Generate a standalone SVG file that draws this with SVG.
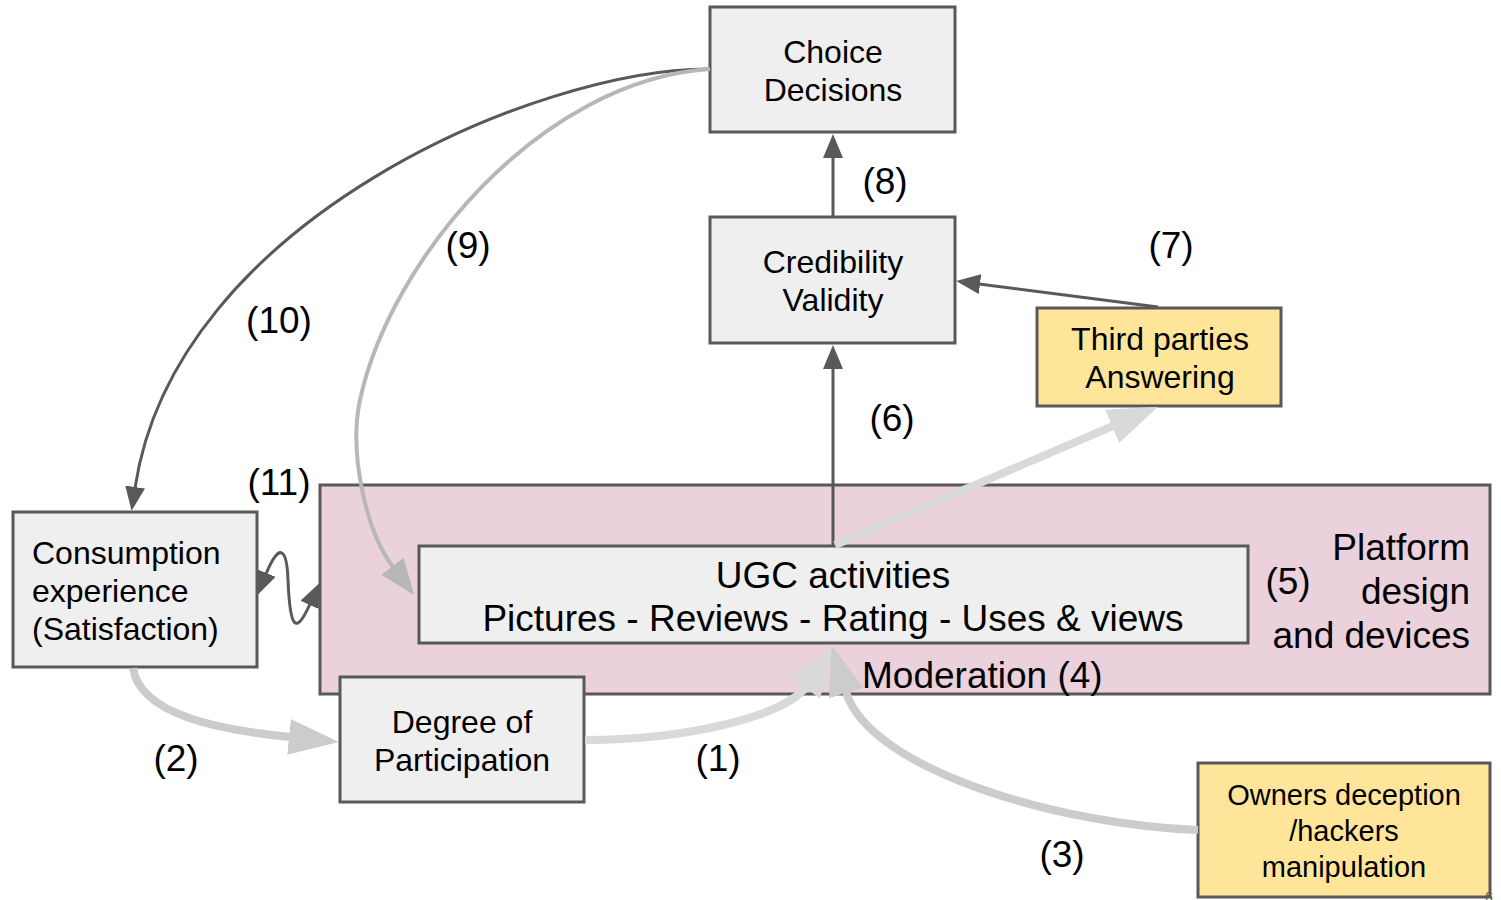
<svg xmlns="http://www.w3.org/2000/svg" width="1501" height="900" viewBox="0 0 1501 900">
<style>
.box{fill:#efefef;stroke:#595959;stroke-width:3}
.yel{fill:#ffe599;stroke:#595959;stroke-width:3}
.plat{fill:#ead1dc;stroke:#595959;stroke-width:3}
text{font-family:"Liberation Sans",Arial,sans-serif;fill:#000}
.t31{font-size:32px;text-anchor:middle}
.t31s{font-size:32px;text-anchor:start}
.t29{font-size:29px;text-anchor:middle}
.t36{font-size:37px}
.lbl{font-size:37px;text-anchor:middle}
.dark{fill:none;stroke:#595959;stroke-width:3}
.l9{fill:none;stroke:#b7b7b7;stroke-width:4}
.lc{fill:none;stroke:#cccccc;stroke-width:8}
.ld{fill:none;stroke:#d9d9d9;stroke-width:8}
</style>
<defs>
<marker id="ad" markerUnits="userSpaceOnUse" viewBox="0 0 24 20" markerWidth="24" markerHeight="20" refX="1" refY="10" orient="auto-start-reverse"><path d="M0,0 L24,10 L0,20 z" fill="#595959"/></marker>
<marker id="a9" markerUnits="userSpaceOnUse" viewBox="0 0 36 28" markerWidth="36" markerHeight="28" refX="1" refY="14" orient="auto"><path d="M0,0 L36,14 L0,28 z" fill="#b7b7b7"/></marker>
<marker id="ac" markerUnits="userSpaceOnUse" viewBox="0 0 50 36" markerWidth="50" markerHeight="36" refX="1" refY="18" orient="auto"><path d="M0,0 L50,18 L0,36 z" fill="#cccccc"/></marker>
<marker id="adl" markerUnits="userSpaceOnUse" viewBox="0 0 50 36" markerWidth="50" markerHeight="36" refX="1" refY="18" orient="auto"><path d="M0,0 L50,18 L0,36 z" fill="#d9d9d9"/></marker>
</defs>

<g id="platform">
<rect class="plat" x="320" y="485" width="1170" height="209"/>
<text class="t36" x="1470" y="560" text-anchor="end">Platform</text>
<text class="t36" x="1470" y="604" text-anchor="end">design</text>
<text class="t36" x="1470" y="648" text-anchor="end">and devices</text>
<text class="t36" x="862" y="688">Moderation (4)</text>
</g>

<g id="ugc">
<rect class="box" x="419" y="546" width="829" height="97"/>
<text class="t36" x="833" y="588" text-anchor="middle">UGC activities</text>
<text class="t36" x="833" y="631" text-anchor="middle">Pictures - Reviews - Rating - Uses &amp; views</text>
</g>

<g id="choice">
<rect class="box" x="710" y="7" width="245" height="125"/>
<text class="t31" x="833" y="63">Choice</text>
<text class="t31" x="833" y="101">Decisions</text>
</g>

<g id="credibility">
<rect class="box" x="710" y="217" width="245" height="126"/>
<text class="t31" x="833" y="273">Credibility</text>
<text class="t31" x="833" y="311">Validity</text>
</g>

<g id="thirdparties">
<rect class="yel" x="1037" y="308" width="244" height="98"/>
<text class="t31" x="1160" y="350">Third parties</text>
<text class="t31" x="1160" y="388">Answering</text>
</g>

<g id="consumption">
<rect class="box" x="13" y="512" width="244" height="155"/>
<text class="t31s" x="32" y="564">Consumption</text>
<text class="t31s" x="32" y="602">experience</text>
<text class="t31s" x="32" y="640">(Satisfaction)</text>
</g>

<g id="degree">
<rect class="box" x="340" y="677" width="244" height="125"/>
<text class="t31" x="462" y="733">Degree of</text>
<text class="t31" x="462" y="771">Participation</text>
</g>

<g id="owners">
<rect class="yel" x="1198" y="763" width="292" height="134"/>
<text class="t29" x="1344" y="805">Owners deception</text>
<text class="t29" x="1344" y="841">/hackers</text>
<text class="t29" x="1344" y="877">manipulation</text>
</g>

<g id="connectors">
<line class="dark" x1="833" y1="216" x2="833" y2="157" marker-end="url(#ad)"/>
<line class="dark" x1="833" y1="546" x2="833" y2="368" marker-end="url(#ad)"/>
<line class="dark" x1="1158" y1="307" x2="979" y2="284" marker-end="url(#ad)"/>
<path class="dark" d="M710,69 C540,68 175,220 135,488" marker-end="url(#ad)"/>
<path class="dark" d="M266,574 C280,540 287,550 288,580 C290,630 296,635 310,604" marker-start="url(#ad)" marker-end="url(#ad)"/>
<path class="l9" d="M710,69 C540,80 390,260 360,400 C349,451 365,530 393,567" marker-end="url(#a9)"/>
<path class="lc" d="M133,668 C140,715 220,730 290,737" marker-end="url(#ac)"/>
<path class="ld" d="M585,740 C690,740 785,715 806,687" marker-end="url(#adl)"/>
<path class="lc" d="M1198,830 C1060,825 870,770 846,692" marker-end="url(#ac)"/>
<line class="ld" x1="835" y1="545" x2="1113" y2="426" marker-end="url(#adl)"/>
</g>

<g id="labels">
<text class="lbl" x="885" y="194">(8)</text>
<text class="lbl" x="468" y="258">(9)</text>
<text class="lbl" x="1171" y="258">(7)</text>
<text class="lbl" x="279" y="333">(10)</text>
<text class="lbl" x="892" y="431">(6)</text>
<text class="lbl" x="279" y="495">(11)</text>
<text class="lbl" x="1288" y="594">(5)</text>
<text class="lbl" x="176" y="771">(2)</text>
<text class="lbl" x="718" y="771">(1)</text>
<text class="lbl" x="1062" y="867">(3)</text>
<text x="1485" y="902" style="font-size:14px;fill:#555">6</text>
</g>
</svg>
